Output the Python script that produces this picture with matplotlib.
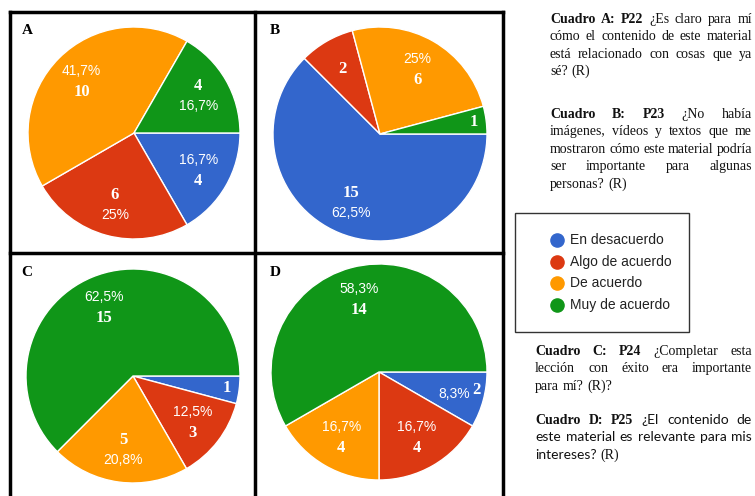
import numpy as np
import matplotlib.pyplot as plt
from matplotlib.patches import Rectangle

W, H = 755, 496

# data
categories = ["En desacuerdo", "Algo de acuerdo", "De acuerdo", "Muy de acuerdo"]
colors = ["#3366cc", "#dc3912", "#ff9900", "#109618"]

panels = ["A", "B", "C", "D"]
values_A = [4, 6, 10, 4]
values_B = [15, 2, 6, 1]
values_C = [1, 3, 5, 15]
values_D = [2, 4, 4, 14]
pct_A = ["16,7%", "25%", "41,7%", "16,7%"]
pct_B = ["62,5%", "", "25%", ""]
pct_C = ["", "12,5%", "20,8%", "62,5%"]
pct_D = ["8,3%", "16,7%", "16,7%", "58,3%"]

# text blocks (*bold, ~sans)
note_A = ["*Cuadro *A: *P22 ¿Es claro para mí",
          "cómo el contenido de este material",
          "está relacionado con cosas que ya",
          "sé? (R)"]
note_B = ["*Cuadro *B: *P23 ¿No había",
          "imágenes, vídeos y textos que me",
          "mostraron cómo este material podría",
          "ser importante para algunas",
          "personas? (R)"]
note_C = ["*Cuadro *C: *P24 ¿Completar esta",
          "lección con éxito era importante",
          "para mí? (R)?"]
note_D = ["*Cuadro *D: *P25 ~¿El ~contenido ~de",
          "~este ~material ~es ~relevante ~para ~mis",
          "~intereses? (R)"]

# layout (pixels from top-left)
pies = [(134, 133, 106), (380, 134, 107), (133, 376, 107), (379, 372, 108)]
letters = [(27, 31), (275, 31), (27, 273), (275, 273)]
# label stacking: p = percent on top, c = count on top, h = side by side
orders = [["p", "c", "p", "c"], ["c", "c", "p", "c"],
          ["c", "p", "c", "p"], ["h", "p", "p", "p"]]
notes = [(550, 23, note_A), (550, 118, note_B), (535, 355, note_C), (535, 424, note_D)]

SERIF = "Liberation Serif"
SANS = "Liberation Sans"

fig = plt.figure(figsize=(W / 100, H / 100), dpi=100)
ax = fig.add_axes([0, 0, 1, 1])

def Y(y):
    return H - y

allvals = [values_A, values_B, values_C, values_D]
allpct = [pct_A, pct_B, pct_C, pct_D]
for name, vals, pcts, order, (cx, cy, r), (lx, ly) in zip(panels, allvals, allpct, orders, pies, letters):
    wedges, _ = ax.pie(vals, colors=colors, startangle=0, counterclock=False,
                       center=(cx, Y(cy)), radius=r, frame=True,
                       wedgeprops=dict(edgecolor="white", linewidth=1))
    total = sum(vals)
    for w, v, p, o in zip(wedges, vals, pcts, order):
        mid = np.deg2rad((w.theta1 + w.theta2) / 2)
        d = 0.88 if v / total < 0.07 else 0.7
        if o == "h":
            d = 0.8
        x = cx + d * r * np.cos(mid)
        y = Y(cy) + d * r * np.sin(mid)
        cnt_kw = dict(color="white", fontsize=12, fontweight="bold", family=SERIF,
                      ha="center", va="center")
        pct_kw = dict(color="white", fontsize=10, family=SANS, ha="center", va="center")
        if not p:
            ax.text(x, y, str(v), **cnt_kw)
        elif o == "h":
            ax.text(x + 8, y, p, **{**pct_kw, "ha": "right"})
            ax.text(x + 10, y + 4, str(v), **{**cnt_kw, "ha": "left"})
        elif o == "c":
            ax.text(x, y + 10, str(v), **cnt_kw)
            ax.text(x, y - 10, p, **pct_kw)
        else:
            ax.text(x, y + 10, p, **pct_kw)
            ax.text(x, y - 11, str(v), **cnt_kw)
    ax.text(lx, Y(ly), name, fontsize=11, fontweight="bold", family=SERIF,
            ha="center", va="center")

# panel frames
lw = 2.5
ax.plot([10, 10], [Y(12), 0], color="black", lw=lw)
ax.plot([503, 503], [Y(12), 0], color="black", lw=lw)
ax.plot([255, 255], [Y(12), 0], color="black", lw=lw)
ax.plot([10, 503], [Y(12), Y(12)], color="black", lw=lw)
ax.plot([10, 503], [Y(253), Y(253)], color="black", lw=lw)

# legend
ax.add_patch(Rectangle((515, Y(332)), 174, 119, fill=False, edgecolor="#333333", lw=1))
for i, (cat, c) in enumerate(zip(categories, colors)):
    yy = Y(240 + i * 21.7)
    ax.scatter([557], [yy], s=90, color=c, zorder=3)
    ax.text(570, yy, cat, fontsize=10, family=SANS, color="#222222", va="center")

# justified notes
renderer = fig.canvas.get_renderer()
x_right = 752
lead = 17.4

def word_style(wd):
    if wd.startswith("*"):
        return wd[1:], dict(family=SERIF, fontweight="bold")
    if wd.startswith("~"):
        return wd[1:], dict(family="Lato")
    return wd, dict(family=SERIF)

for x0, y0, lines in notes:
    for i, line in enumerate(lines):
        items = [word_style(wd) for wd in line.split()]
        texts = [ax.text(0, 0, s, fontsize=10, color="#111111", va="baseline", **kw) for s, kw in items]
        widths = [t.get_window_extent(renderer).width for t in texts]
        last = i == len(lines) - 1
        if last or len(texts) == 1:
            gap = 3.5
        else:
            gap = (x_right - x0 - sum(widths)) / (len(texts) - 1)
        xx = x0
        for t, wdt in zip(texts, widths):
            t.set_position((xx, Y(y0 + i * lead)))
            xx += wdt + gap

ax.set_xlim(0, W)
ax.set_ylim(0, H)
ax.axis("off")
fig.savefig("out.png", dpi=100)
